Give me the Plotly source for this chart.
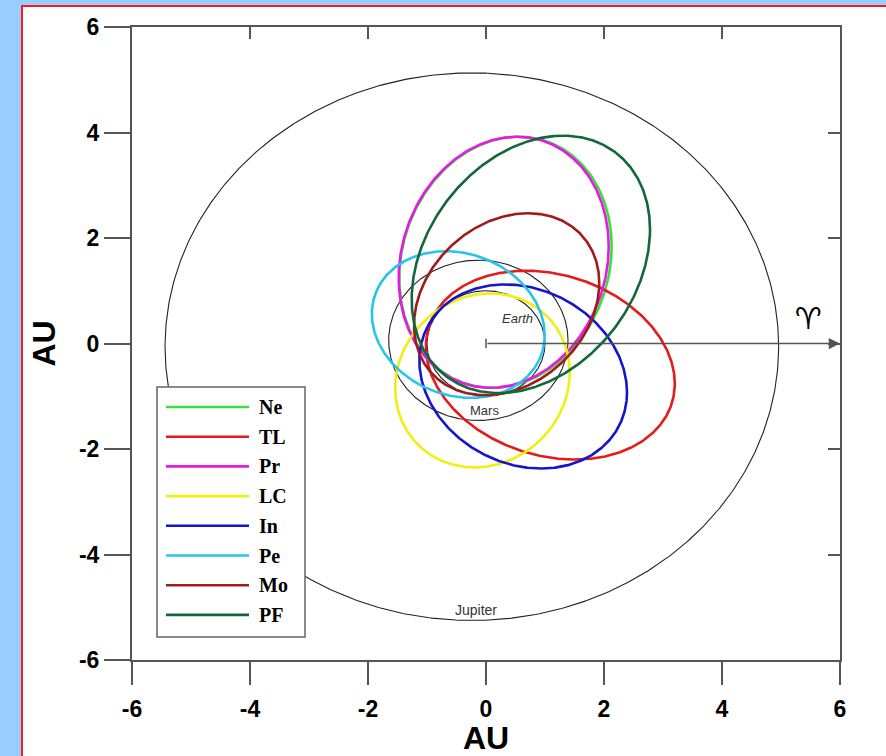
import numpy as np
import plotly.graph_objects as go

W, H = 886, 756
ML, MR, MT, MB = 132, 46, 27, 96
PW, PH = W - ML - MR, H - MT - MB

# ---------------- data ----------------
tick_vals = [-6, -4, -2, 0, 2, 4, 6]
tick_text = ["-6", "-4", "-2", "0", "2", "4", "6"]

stream_names = ["Ne", "TL", "Pr", "LC", "In", "Pe", "Mo", "PF"]
stream_colors = ["#3ae03a", "#e31b1b", "#e619e6", "#f2ee12", "#1515cc", "#26c6ea", "#a01c1c", "#12683a"]
# projected orbit ellipses: centre, half-width (x), half-height (y), y-offset of right-most point
stream_cx = [0.33, 1.09, 0.30, -0.06, 0.63, -0.47, 0.35, 0.76]
stream_cy = [1.54, -0.41, 1.54, -0.70, -0.625, 0.36, 0.745, 1.50]
stream_wx = [1.80, 2.11, 1.78, 1.48, 1.76, 1.465, 1.57, 2.02]
stream_hy = [2.38, 1.79, 2.38, 1.65, 1.745, 1.39, 1.725, 2.44]
stream_ky = [0.30, -0.35, 0.30, 0.15, -0.30, -0.20, 0.40, 0.66]

planet_names = ["Earth", "Mars", "Jupiter"]
planet_cx = [0.0, -0.13, -0.24]
planet_cy = [0.0, 0.06, -0.06]
planet_wx = [1.0, 1.52, 5.20]
planet_hy = [1.0, 1.52, 5.19]
planet_ky = [0.0, 0.0, 0.0]

t = np.linspace(0, 2 * np.pi, 721)


def ellipse(cx, cy, wx, hy, ky):
    m = np.sqrt(hy ** 2 - ky ** 2)
    return cx + wx * np.cos(t), cy + ky * np.cos(t) + m * np.sin(t)


def px2paper_x(px):
    return (px - ML) / PW


def px2paper_y(py):
    return (H - MB - py) / PH


fig = go.Figure()

for i, name in enumerate(planet_names):
    x, y = ellipse(planet_cx[i], planet_cy[i], planet_wx[i], planet_hy[i], planet_ky[i])
    fig.add_trace(go.Scatter(x=x, y=y, mode="lines", name=name, showlegend=False,
                             line=dict(color="#222222", width=1.1), hoverinfo="name"))

for i, name in enumerate(stream_names):
    x, y = ellipse(stream_cx[i], stream_cy[i], stream_wx[i], stream_hy[i], stream_ky[i])
    fig.add_trace(go.Scatter(x=x, y=y, mode="lines", name=name, showlegend=False,
                             line=dict(color=stream_colors[i], width=2.6), hoverinfo="name"))

# dummy trace for mirrored (top/right) axes
fig.add_trace(go.Scatter(x=[None], y=[None], xaxis="x2", yaxis="y2", showlegend=False, hoverinfo="skip"))

axis_col = "#555555"
tickfont = dict(family="Liberation Sans, Arial, sans-serif", size=23, color="black", weight="bold")
titlefont = dict(family="Liberation Sans, Arial, sans-serif", size=32, color="black", weight="bold")

common = dict(range=[-6, 6], tickvals=tick_vals, ticktext=tick_text, showgrid=False, zeroline=False,
              showline=True, linecolor=axis_col, linewidth=2, tickcolor=axis_col, tickwidth=1.6,
              fixedrange=True, automargin=False)

fig.update_layout(
    width=W, height=H,
    margin=dict(l=ML, r=MR, t=MT, b=MB),
    paper_bgcolor="#99ccff",
    plot_bgcolor="white",
    xaxis=dict(**common, ticks="outside", ticklen=23, tickfont=tickfont, ticklabelstandoff=4,
               title=dict(text="AU", font=titlefont, standoff=14)),
    yaxis=dict(**common, ticks="outside", ticklen=26, tickfont=tickfont,
               title=dict(text="AU", font=titlefont, standoff=14)),
    xaxis2=dict(**common, overlaying="x", side="top", anchor="y", ticks="inside", ticklen=12,
                showticklabels=False),
    yaxis2=dict(**common, overlaying="y", side="right", anchor="x", ticks="inside", ticklen=12,
                showticklabels=False),
)

shapes = []
# white panel with red border
shapes.append(dict(type="rect", xref="paper", yref="paper", layer="below",
                   x0=px2paper_x(22), x1=px2paper_x(900), y0=px2paper_y(770), y1=px2paper_y(6),
                   fillcolor="white", line=dict(color="#ff1a1a", width=2)))
# small tick at the Sun
shapes.append(dict(type="line", xref="x", yref="y", x0=0, x1=0, y0=-0.09, y1=0.09,
                   line=dict(color=axis_col, width=1.5)))

# custom legend box
shapes.append(dict(type="rect", xref="paper", yref="paper",
                   x0=px2paper_x(157), x1=px2paper_x(305), y0=px2paper_y(637), y1=px2paper_y(387),
                   fillcolor="white", line=dict(color="#666666", width=1.5)))

annotations = []
for i, name in enumerate(stream_names):
    py = 407 + i * 29.7
    shapes.append(dict(type="line", xref="paper", yref="paper",
                       x0=px2paper_x(166), x1=px2paper_x(249), y0=px2paper_y(py), y1=px2paper_y(py),
                       line=dict(color=stream_colors[i], width=2.6)))
    annotations.append(dict(xref="paper", yref="paper", x=px2paper_x(257), y=px2paper_y(py),
                            xanchor="left", yanchor="middle", showarrow=False, text=name,
                            font=dict(family="Liberation Serif, Times New Roman, serif", size=20,
                                      color="black", weight="bold")))

# vernal equinox direction arrow
annotations.append(dict(x=6, y=0, ax=0, ay=0, xref="x", yref="y", axref="x", ayref="y", text="",
                        showarrow=True, arrowhead=2, arrowsize=1.5, arrowwidth=1.5, arrowcolor=axis_col,
                        standoff=0))
annotations.append(dict(x=5.46, y=0.47, xref="x", yref="y", text="\u2648", showarrow=False,
                        font=dict(family="DejaVu Sans", size=30, color="black")))

# planet labels
label_pos = {"Earth": (0.54, 0.47, True, 13), "Mars": (-0.02, -1.27, False, 13), "Jupiter": (-0.17, -5.06, False, 14)}
for name in planet_names:
    x, y, it, sz = label_pos[name]
    annotations.append(dict(x=x, y=y, xref="x", yref="y", showarrow=False, text=name,
                            font=dict(family="Liberation Sans, Arial, sans-serif", size=sz, color="#333333",
                                      style="italic" if it else "normal")))

fig.update_layout(shapes=shapes, annotations=annotations)

fig.write_html("out.html")
